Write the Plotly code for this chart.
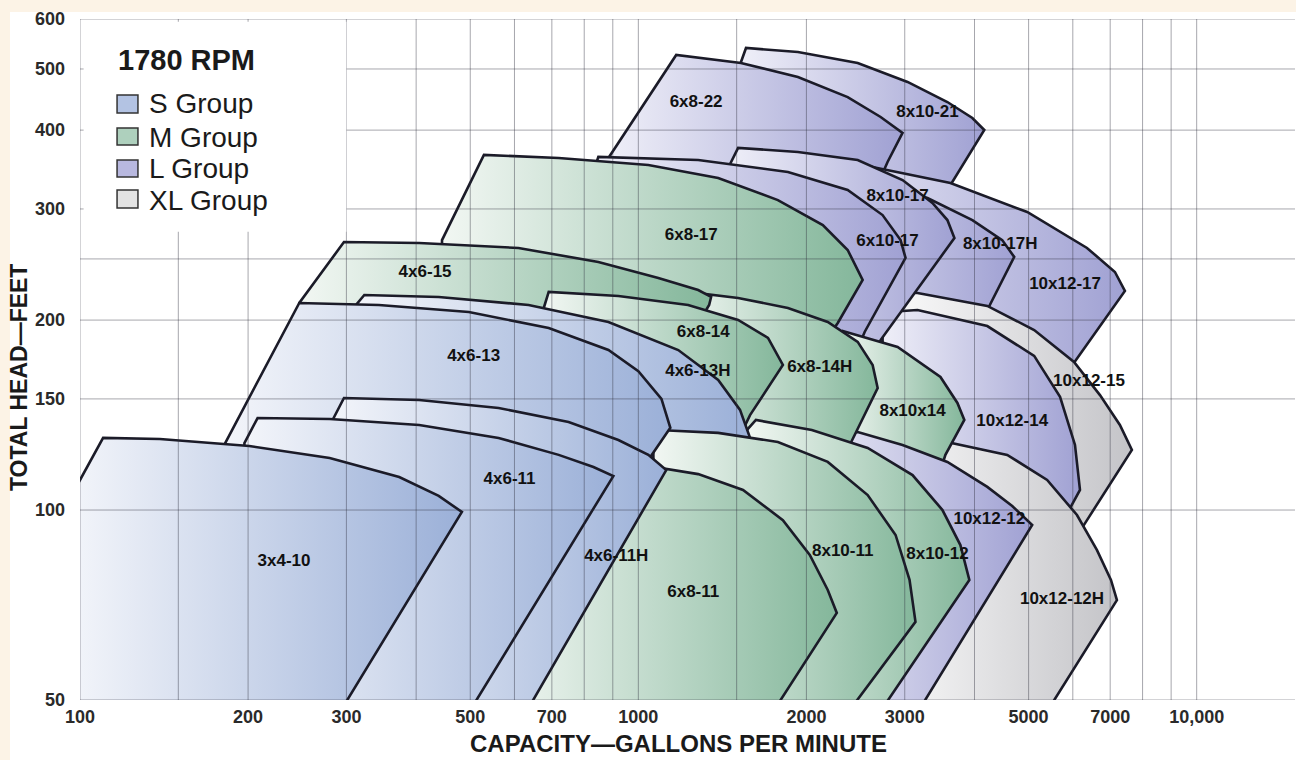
import math
import plotly.graph_objects as go

# ---------------- axis ticks / grid ----------------
X_TICKS = [100, 200, 300, 500, 700, 1000, 2000, 3000, 5000, 7000, 10000]
X_TICK_TEXT = ['100', '200', '300', '500', '700', '1000', '2000', '3000', '5000', '7000', '10,000']
Y_TICKS = [50, 100, 150, 200, 300, 400, 500, 600]
Y_TICK_TEXT = ['50', '100', '150', '200', '300', '400', '500', '600']
X_GRID = [100, 150, 200, 300, 400, 500, 600, 700, 800, 900, 1000, 1500,
          2000, 3000, 4000, 5000, 6000, 7000, 8000, 9000, 10000]
Y_GRID = [50, 100, 150, 200, 250, 300, 400, 500, 600]
X_RANGE = [100, 15000]
Y_RANGE = [50, 600]

# ---------------- coverage regions: capacity (gpm) / head (ft) outlines ----------------
Q_8x10_21 = [1527, 1527, 1559, 1931, 2471, 3035, 3577, 3965, 4165, 3622, 1778]
H_8x10_21 = [45, 512.9, 539.8, 532.0, 511.1, 476.9, 443.2, 418.1, 400.2, 327.4, 45]

Q_6x8_22 = [884, 884, 1169, 1527, 1931, 2371, 2716, 2973, 2795, 1000]
H_6x8_22 = [45, 361.4, 526.2, 511.1, 485.7, 451.3, 419.6, 395.9, 356.1, 45]

Q_10x12_17 = [1891, 1891, 1931, 2471, 3622, 4971, 6362, 7138, 7438, 6030, 1963]
H_10x12_17 = [45, 352.2, 366.7, 353.5, 329.8, 296.7, 260.2, 238.4, 222.4, 171.1, 45]

Q_8x10_17H = [1742, 1742, 1778, 2371, 3295, 3965, 4485, 4712, 4217, 1853]
H_8x10_17H = [45, 345.9, 358.7, 339.6, 312.2, 288.1, 267.8, 251.8, 207.5, 45]

Q_10x12_15 = [2795, 2795, 2853, 3162, 4217, 5116, 6030, 6711, 7286, 7655, 6362, 3667]
H_10x12_15 = [45, 215.2, 221.6, 220.8, 210.6, 192.9, 171.7, 152.1, 136.4, 124.5, 96.4, 45]

Q_10x12_14 = [2738, 2738, 2795, 3162, 4217, 5116, 5692, 6054, 6180, 5907, 3447]
H_10x12_14 = [45, 200.1, 206.0, 207.5, 195.7, 175.5, 151.1, 126.8, 107.6, 100.0, 45]

Q_8x10_17 = [1454, 1454, 1509, 1931, 2471, 2973, 3363, 3577, 3682, 2716, 1638]
H_8x10_17 = [45, 350.9, 374.8, 369.4, 358.7, 333.4, 306.6, 288.1, 269.8, 186.0, 45]

Q_6x10_17 = [835, 835, 848, 1280, 1853, 2371, 2738, 2949, 3010, 2543, 1280]
H_6x10_17 = [45, 348.4, 362.7, 358.7, 343.3, 321.5, 293.4, 267.8, 250.9, 191.5, 45]

Q_6x8_17 = [445, 445, 529, 720, 1042, 1390, 1778, 2140, 2371, 2522, 2276, 720]
H_6x8_17 = [45, 267.8, 365.4, 361.4, 352.2, 335.9, 309.9, 282.9, 258.3, 231.5, 197.9, 45]

Q_10x12_12H = [2683, 3363, 3433, 4578, 5397, 6104, 6629, 7022, 7197, 5158]
H_10x12_12H = [45, 124.5, 129.1, 122.3, 111.6, 98.2, 86.4, 77.5, 72.0, 45]

Q_8x10x14 = [2285, 2285, 2323, 2913, 3476, 3728, 3836, 3548, 2471]
H_8x10x14 = [45, 188.0, 192.2, 181.3, 162.5, 147.8, 138.9, 122.3, 45]

Q_10x12_12 = [1891, 1891, 1931, 2471, 2973, 3577, 4217, 4673, 5074, 3035]
H_10x12_12 = [45, 132.9, 136.4, 132.9, 126.8, 119.2, 108.8, 101.5, 94.7, 45]

Q_6x8_14H = [1179, 1179, 1228, 1509, 1853, 2184, 2471, 2628, 2683, 2401, 1280]
H_6x8_14H = [45, 211.3, 221.6, 216.8, 209.0, 198.6, 184.7, 169.8, 156.1, 127.7, 45]

Q_4x6_15 = [247, 247, 297, 405, 610, 848, 1086, 1280, 1350, 1339, 477]
H_4x6_15 = [45, 212.9, 265.9, 264.9, 260.2, 247.2, 233.2, 223.2, 217.6, 211.3, 45]

Q_6x8_14 = [677, 677, 691, 921, 1228, 1509, 1707, 1815, 1585, 848]
H_6x8_14 = [45, 209.0, 221.6, 218.4, 211.3, 200.1, 187.4, 169.8, 141.4, 45]

Q_8x10_12 = [1553, 1553, 1624, 2045, 2575, 3098, 3505, 3774, 3916, 2585]
H_8x10_12 = [45, 132.9, 138.9, 133.9, 125.4, 113.6, 100.0, 88.0, 77.5, 45]

Q_4x6_13H = [311, 311, 323, 439, 636, 884, 1179, 1390, 1521, 1585, 772]
H_4x6_13H = [45, 210.6, 219.2, 217.6, 211.3, 198.6, 179.3, 160.7, 144.1, 130.1, 45]

Q_8x10_11 = [1064, 1064, 1086, 1390, 1778, 2184, 2575, 2889, 3060, 3136, 2257]
H_8x10_11 = [45, 129.1, 133.9, 132.5, 128.2, 119.2, 105.6, 91.3, 77.5, 66.5, 45]

Q_6x8_11 = [562, 1064, 1095, 1280, 1540, 1815, 2028, 2184, 2267, 1665]
H_6x8_11 = [45, 112.4, 116.6, 114.0, 107.6, 96.4, 84.9, 74.7, 68.7, 45]

Q_4x6_13 = [182, 182, 247, 343, 497, 691, 884, 1000, 1100, 1141, 1042, 538]
H_4x6_13 = [45, 127.7, 212.9, 211.3, 206.0, 194.3, 179.3, 166.0, 150.0, 135.0, 120.0, 45]

Q_4x6_11H = [284, 284, 297, 405, 562, 750, 921, 1042, 1122, 605]
H_4x6_11H = [45, 139.4, 150.5, 149.4, 145.1, 137.9, 129.1, 122.3, 115.7, 45]

Q_4x6_11 = [197, 197, 208, 280, 405, 562, 720, 831, 902, 477]
H_4x6_11 = [45, 127.7, 139.9, 139.4, 136.4, 130.1, 122.3, 117.0, 113.2, 45]

Q_3x4_10 = [96, 96, 110, 139, 201, 280, 373, 439, 483, 280]
H_3x4_10 = [45, 104.5, 130.1, 129.6, 126.3, 120.9, 112.8, 105.3, 99.3, 45]

# ---------------- region labels ----------------
LABEL_TEXT = ['3x4-10', '4x6-11', '4x6-11H', '4x6-13', '4x6-13H', '4x6-15',
              '6x8-17', '6x8-14', '6x8-14H', '6x8-11', '8x10-11', '8x10-12',
              '8x10x14', '6x8-22', '8x10-21', '8x10-17', '6x10-17', '8x10-17H',
              '10x12-17', '10x12-15', '10x12-14', '10x12-12', '10x12-12H']
LABEL_Q = [232, 588, 913, 507, 1278, 415, 1244, 1307, 2113, 1254, 2323, 3433,
           3098, 1269, 3295, 2913, 2795, 4448, 5812, 6414, 4673, 4253, 5739]
LABEL_H = [82.7, 111.6, 84.3, 174.8, 165.5, 238, 271.8, 190.8, 168, 73.9, 85.8, 84.8,
           143, 441.7, 425.9, 313.4, 265.9, 263.1, 227.4, 159.6, 137.9, 96.4, 72]

# ---------------- legend ----------------
LEGEND_TITLE = '1780 RPM'
GROUP_NAMES = ['S Group', 'M Group', 'L Group', 'XL Group']
GROUP_KEYS = ['S', 'M', 'L', 'XL']

GROUP_COLORS = {
    'S': ('#f3f5fa', '#9bb0d8'),
    'M': ('#f2f7f3', '#84b79b'),
    'L': ('#efeff8', '#a0a1d3'),
    'XL': ('#fbfbfb', '#c4c4c8'),
}
SWATCH = {'S': '#b3c3e3', 'M': '#aed0bd', 'L': '#b8b8df', 'XL': '#e3e3e3'}
OUTLINE = '#1b1b28'
FONT = 'Liberation Sans, Arial, Helvetica, sans-serif'

# drawing order: back to front
REGIONS = [
    ('8x10-21', Q_8x10_21, H_8x10_21, 'L'),
    ('6x8-22', Q_6x8_22, H_6x8_22, 'L'),
    ('10x12-17', Q_10x12_17, H_10x12_17, 'L'),
    ('8x10-17H', Q_8x10_17H, H_8x10_17H, 'L'),
    ('10x12-15', Q_10x12_15, H_10x12_15, 'XL'),
    ('10x12-14', Q_10x12_14, H_10x12_14, 'L'),
    ('8x10-17', Q_8x10_17, H_8x10_17, 'L'),
    ('6x10-17', Q_6x10_17, H_6x10_17, 'L'),
    ('6x8-17', Q_6x8_17, H_6x8_17, 'M'),
    ('10x12-12H', Q_10x12_12H, H_10x12_12H, 'XL'),
    ('8x10x14', Q_8x10x14, H_8x10x14, 'M'),
    ('10x12-12', Q_10x12_12, H_10x12_12, 'L'),
    ('6x8-14H', Q_6x8_14H, H_6x8_14H, 'M'),
    ('4x6-15', Q_4x6_15, H_4x6_15, 'M'),
    ('6x8-14', Q_6x8_14, H_6x8_14, 'M'),
    ('8x10-12', Q_8x10_12, H_8x10_12, 'M'),
    ('4x6-13H', Q_4x6_13H, H_4x6_13H, 'S'),
    ('8x10-11', Q_8x10_11, H_8x10_11, 'M'),
    ('6x8-11', Q_6x8_11, H_6x8_11, 'M'),
    ('4x6-13', Q_4x6_13, H_4x6_13, 'S'),
    ('4x6-11H', Q_4x6_11H, H_4x6_11H, 'S'),
    ('4x6-11', Q_4x6_11, H_4x6_11, 'S'),
    ('3x4-10', Q_3x4_10, H_3x4_10, 'S'),
]

fig = go.Figure()

for name, q, h, g in REGIONS:
    c0, c1 = GROUP_COLORS[g]
    fig.add_trace(go.Scatter(
        x=q, y=h, mode='lines', fill='toself',
        fillgradient=dict(type='horizontal', colorscale=[[0, c0], [1, c1]]),
        line=dict(color=OUTLINE, width=2.6),
        name=name, hoverinfo='skip', showlegend=False))

# grid drawn over the shaded regions
gx, gy = [], []
for v in X_GRID:
    gx += [v, v, None]
    gy += [Y_RANGE[0], Y_RANGE[1], None]
for v in Y_GRID:
    gx += [X_RANGE[0], X_RANGE[1], None]
    gy += [v, v, None]
fig.add_trace(go.Scatter(x=gx, y=gy, mode='lines',
                         line=dict(color='rgba(45,45,60,0.42)', width=1),
                         hoverinfo='skip', showlegend=False))

# white legend panel
fig.add_trace(go.Scatter(x=[101.5, 300, 300, 101.5], y=[276, 276, 594, 594],
                         mode='lines', fill='toself', fillcolor='white',
                         line=dict(color='rgba(0,0,0,0)', width=0),
                         hoverinfo='skip', showlegend=False))

# region labels
fig.add_trace(go.Scatter(x=LABEL_Q, y=LABEL_H, mode='text', text=LABEL_TEXT,
                         textfont=dict(family=FONT, size=17, color='#111111', weight='bold'),
                         hoverinfo='skip', showlegend=False))

shapes = [dict(type='rect', xref='paper', yref='paper', layer='below',
               x0=-0.0576, x1=1.01, y0=-0.12, y1=1.0103,
               fillcolor='white', line=dict(width=0))]
annotations = []

# legend swatches and text (paper coordinates)
sw_y = [(0.8620, 0.8884), (0.8150, 0.8399), (0.7680, 0.7930), (0.7225, 0.7489)]
txt_y = [0.8752, 0.8267, 0.7812, 0.7342]
for key, nm, (y0, y1), ty in zip(GROUP_KEYS, GROUP_NAMES, sw_y, txt_y):
    shapes.append(dict(type='rect', xref='paper', yref='paper', layer='above',
                       x0=0.0305, x1=0.0477, y0=y0, y1=y1,
                       fillcolor=SWATCH[key], line=dict(color='#333333', width=1.5)))
    annotations.append(dict(xref='paper', yref='paper', x=0.0548, y=ty,
                            xanchor='left', yanchor='middle', showarrow=False,
                            text=nm, font=dict(family=FONT, size=28, color='#1a1a1a')))
annotations.append(dict(xref='paper', yref='paper', x=0.0300, y=0.9398,
                        xanchor='left', yanchor='middle', showarrow=False,
                        text=LEGEND_TITLE,
                        font=dict(family=FONT, size=29, color='#1a1a1a', weight='bold')))

# axis titles
annotations.append(dict(xref='paper', yref='paper', x=0.4922, y=-0.0646,
                        xanchor='center', yanchor='middle', showarrow=False,
                        text='CAPACITY—GALLONS PER MINUTE',
                        font=dict(family=FONT, size=24, color='#1a1a1a', weight='bold')))
annotations.append(dict(xref='paper', yref='paper', x=-0.0502, y=0.4728,
                        xanchor='center', yanchor='middle', showarrow=False,
                        textangle=-90, text='TOTAL HEAD—FEET',
                        font=dict(family=FONT, size=23, color='#1a1a1a', weight='bold')))

fig.update_layout(
    width=1296, height=760,
    margin=dict(l=80, r=1, t=19, b=60),
    paper_bgcolor='#fcf3e6', plot_bgcolor='white',
    shapes=shapes, annotations=annotations,
    showlegend=False,
    xaxis=dict(type='log', range=[math.log10(X_RANGE[0]), math.log10(X_RANGE[1])],
               tickvals=X_TICKS, ticktext=X_TICK_TEXT, showgrid=False, zeroline=False,
               showline=False, ticks='', ticklabelstandoff=4,
               tickfont=dict(family=FONT, size=18, color='#2a2a2a', weight='bold')),
    yaxis=dict(type='log', range=[math.log10(Y_RANGE[0]), math.log10(Y_RANGE[1])],
               tickvals=Y_TICKS, ticktext=Y_TICK_TEXT, showgrid=False, zeroline=False,
               showline=False, ticks='', ticklabelstandoff=14,
               tickfont=dict(family=FONT, size=18, color='#2a2a2a', weight='bold')),
)

fig.write_html('out.html', config={'displayModeBar': False},
               post_script="document.body.style.margin='0';document.body.style.overflow='hidden';")
